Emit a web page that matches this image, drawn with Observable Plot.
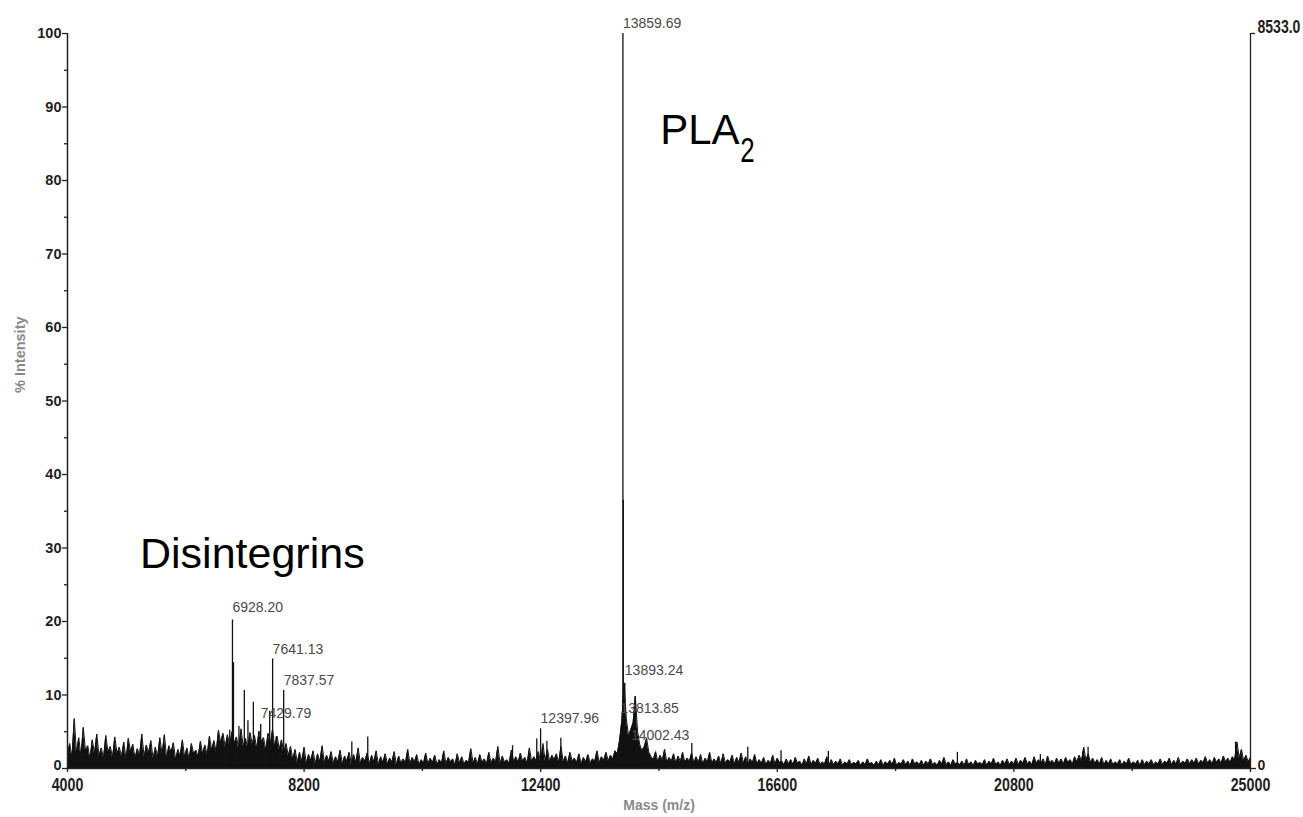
<!DOCTYPE html>
<html><head><meta charset="utf-8">
<script src="https://cdn.jsdelivr.net/npm/d3@7"></script>
<script src="https://cdn.jsdelivr.net/npm/@observablehq/plot@0.6"></script>
<style>
html,body{margin:0;padding:0;background:#fff;overflow:hidden;}
#chart svg{display:block;}
</style>
</head><body><div id="chart"></div>
<script>
// ---- data ----
const massStart = 4000;   // first sampled m/z
const massStep = 40;      // sampling step of the baseline trace (Da)
const intensities = [
 1.9,3.4,1.5,6.8,2.1,4.2,1.6,5.6,2.4,3.1,1.3,3.9,2.0,4.7,1.7,2.8,1.4,4.5,2.2,3.0,
 1.5,4.3,2.0,2.9,1.6,3.6,1.2,4.1,2.3,3.3,1.4,2.7,1.8,4.7,1.5,3.2,2.1,3.8,1.3,2.9,
 1.6,4.2,1.9,4.6,1.4,3.1,2.2,3.5,1.2,2.6,1.7,3.9,1.5,2.8,1.3,3.4,2.0,2.5,1.6,3.7,
 2.0,3.2,1.8,4.4,2.5,3.8,2.2,5.2,3.5,4.8,2.9,4.6,3.1,5.0,3.4,4.3,2.6,5.4,3.0,4.1,
 2.8,4.9,3.3,4.5,2.7,5.1,3.6,4.2,2.5,4.8,3.2,5.3,2.9,4.4,2.6,3.9,2.1,3.4,1.7,3.0,
 1.2,2.6,0.8,2.2,1.0,2.9,0.7,1.9,1.1,2.4,0.6,2.0,0.9,3.1,0.8,1.8,1.0,2.3,0.7,1.6,
 0.9,2.5,0.6,1.7,1.0,2.2,0.5,1.9,0.8,2.8,0.7,1.5,1.0,2.1,0.6,1.8,0.9,2.4,0.5,1.6,
 0.8,2.0,0.6,1.4,0.9,2.3,0.5,1.7,0.7,1.3,0.8,2.6,0.6,1.5,0.9,1.9,0.5,1.2,0.7,2.1,
 0.6,1.4,0.8,1.8,0.5,1.2,0.7,2.4,0.6,1.5,0.9,1.3,0.5,2.0,0.7,1.6,0.6,1.1,0.8,2.7,
 0.7,1.5,0.6,1.9,0.8,1.3,0.6,2.2,0.7,1.4,0.9,3.0,0.6,1.7,0.8,1.2,0.7,2.5,0.9,1.6,
 0.8,2.1,1.0,1.5,0.7,2.8,0.9,1.6,1.1,2.3,0.8,3.4,1.0,2.6,0.9,1.8,1.2,2.0,0.8,3.0,
 0.9,1.7,0.7,2.2,1.0,1.4,0.8,2.0,0.6,1.5,0.9,1.9,0.7,1.3,1.0,2.4,0.8,1.6,1.1,2.2,
 1.0,1.8,1.3,2.4,2.0,3.8,6.5,11.6,6.8,4.4,5.3,6.2,9.8,5.0,3.2,2.4,3.0,4.1,2.2,1.6,
 1.2,2.3,0.9,1.8,1.1,2.6,0.8,1.5,1.0,2.0,0.7,1.7,0.9,2.2,0.8,1.4,1.0,2.1,0.7,1.6,
 0.8,1.9,0.6,1.4,0.9,2.2,0.7,1.3,0.8,1.7,0.6,2.0,0.7,1.2,0.9,1.8,0.6,1.5,0.8,2.1,
 0.7,1.6,0.5,1.3,0.8,1.9,0.6,1.2,0.7,1.5,0.5,1.1,0.7,1.8,0.6,1.4,0.8,1.0,0.5,1.3,
 0.6,1.2,0.5,1.5,0.7,1.0,0.4,1.3,0.6,1.7,0.5,1.1,0.7,1.4,0.5,0.9,0.6,1.6,0.4,1.2,
 0.5,1.0,0.6,1.3,0.4,0.9,0.6,1.2,0.5,0.8,0.6,1.1,0.4,0.9,0.5,1.3,0.6,0.8,0.4,1.0,
 0.5,1.2,0.4,0.9,0.6,1.1,0.5,1.4,0.4,0.8,0.6,1.2,0.5,1.0,0.4,1.3,0.6,0.9,0.5,1.1,
 0.4,1.0,0.6,1.3,0.5,0.8,0.4,1.1,0.6,1.5,0.5,0.9,0.4,1.2,0.6,0.8,0.5,1.0,0.4,1.3,
 0.5,0.9,0.4,1.1,0.6,0.8,0.5,1.2,0.4,1.0,0.6,1.4,0.5,0.9,0.4,1.1,0.6,1.3,0.5,1.0,
 0.6,1.4,0.5,1.1,0.7,1.5,0.6,1.0,0.5,1.6,0.7,1.2,0.6,1.3,0.5,1.7,0.7,1.1,0.6,1.4,
 0.7,1.3,0.6,1.5,0.8,1.2,0.6,1.6,0.9,1.8,1.0,2.9,1.1,2.0,0.8,1.4,0.7,1.2,0.6,1.5,
 0.5,1.1,0.6,1.3,0.5,0.9,0.6,1.2,0.4,1.0,0.6,1.4,0.5,0.9,0.6,1.1,0.4,1.2,0.5,1.0,
 0.6,1.2,0.5,0.9,0.6,1.3,0.5,1.0,0.7,1.4,0.5,1.1,0.6,1.5,0.5,1.0,0.7,1.3,0.6,1.2,
 0.7,1.4,0.6,1.1,0.8,1.6,0.7,1.2,0.6,1.5,0.8,1.3,0.7,1.7,0.9,1.4,0.8,1.6,1.2,3.6,
 1.4,2.6,1.0,1.8,0.9,1.5
];
const peakMasses = [6880, 6928.2, 6946, 7043, 7139, 7203, 7299, 7429.79, 7589, 7641.13, 7703, 7837.57,
  9047, 9330, 11900, 12330, 12397.96, 12510, 12758, 13859.69, 13866, 13893.24, 14078,
  15082, 16076, 16666, 17506, 19797, 21270, 22117, 24735];
const peakIntensities = [5.2, 20.2, 14.4, 5.7, 10.6, 6.5, 9.0, 6.0, 7.8, 14.9, 4.3, 10.6,
  3.6, 4.3, 3.1, 4.0, 5.4, 3.7, 4.1, 100, 36.5, 11.6, 9.8,
  3.4, 2.9, 2.4, 2.3, 2.2, 1.9, 2.9, 3.6];
const peakLabels = ["6928.20", "7641.13", "7837.57", "7429.79", "12397.96", "13859.69", "13893.24", "13813.85", "14002.43"];
const peakLabelIntensities = [21.9, 16.2, 12.0, 7.5, 6.8, 101.4, 13.3, 8.2, 4.5];
const xTicks = [4000, 8200, 12400, 16600, 20800, 25000];
const xMinorTicks = [6100, 10300, 14500, 18700, 22900];
const yTicks = [10, 20, 30, 40, 50, 60, 70, 80, 90, 100];
const yZeroTick = [0];
const yMinorTicks = [5, 15, 25, 35, 45, 55, 65, 75, 85, 95];
const annotationTexts = ["Disintegrins", "PLA", "2"];
const annotationMasses = [5287, 14522, 15943];
const annotationIntensities = [29.2, 86.8, 84.1];
const rightAxisMax = "8533.0";
const zeroLabel = "0";
const xTitle = "Mass (m/z)";
const yTitle = "% Intensity";

// ---- tables built from the arrays ----
const spectrum = intensities.map((v, i) => ({mass: massStart + i * massStep, intensity: v}));
const peaks = peakMasses.map((m, i) => ({mass: m, intensity: peakIntensities[i]}));
const labels = peakLabels.map((t, i) => ({mass: +t, intensity: peakLabelIntensities[i], text: t}));
const annotations = annotationTexts.map((t, i) => ({text: t, mass: annotationMasses[i], intensity: annotationIntensities[i]}));

const sans = "'Liberation Sans',Arial,sans-serif";
const ink = "#111";
const tickInk = "#1e1e1e";

const chart = Plot.plot({
  width: 1303,
  height: 817,
  marginLeft: 67,
  marginRight: 53,
  marginTop: 33,
  marginBottom: 49,
  style: {fontFamily: sans, background: "#fff", overflow: "visible"},
  x: {domain: [4000, 25000], label: null},
  y: {domain: [0, 100], label: null},
  marks: [
    Plot.areaY(spectrum, {x: "mass", y: "intensity", fill: ink}),
    Plot.lineY(spectrum, {x: "mass", y: "intensity", stroke: ink, strokeWidth: 1}),
    Plot.ruleX(peaks, {x: "mass", y1: 0, y2: "intensity", stroke: ink, strokeWidth: 1.3}),
    // frame lines
    Plot.ruleX([{mass: 4000}], {x: "mass", y1: 0, y2: 100, stroke: "#222", strokeWidth: 1.5}),
    Plot.ruleX([{mass: 25000}], {x: "mass", y1: 0, y2: 100, stroke: "#222", strokeWidth: 1.3}),
    Plot.ruleY([0], {stroke: "#222", strokeWidth: 1.5}),
    // x axis
    Plot.axisX(xTicks, {tickSize: 4, tickPadding: 5, label: null, tickFormat: d => String(d), fontFamily: sans, fontSize: 19, fontWeight: "bold", fill: tickInk, stroke: "#222", strokeWidth: 1.3, className: "narrow-x"}),
    Plot.axisX(xMinorTicks, {tickSize: 3, label: null, tickFormat: () => "", stroke: "#222", strokeWidth: 1.3}),
    // left y axis
    Plot.axisY(yTicks, {anchor: "left", tickSize: 5, tickPadding: 1, label: null, fontFamily: sans, fontSize: 14.5, fontWeight: "bold", fill: tickInk, stroke: "#222", strokeWidth: 1.3}),
    Plot.axisY(yZeroTick, {anchor: "left", tickSize: 5, label: null, tickFormat: () => "", stroke: "#222", strokeWidth: 1.3}),
    Plot.text([{mass: 4000, intensity: 0, text: zeroLabel}], {x: "mass", y: "intensity", text: "text", textAnchor: "end", dx: -6, dy: -3, fontFamily: sans, fontSize: 14.5, fontWeight: "bold", fill: tickInk}),
    Plot.axisY(yMinorTicks, {anchor: "left", tickSize: 3, label: null, tickFormat: () => "", stroke: "#222", strokeWidth: 1.3}),
    // right y axis (absolute intensity)
    Plot.axisY(yZeroTick, {anchor: "right", tickSize: 5, label: null, tickFormat: () => "", stroke: "#222", strokeWidth: 1.3}),
    Plot.text([{mass: 25000, intensity: 0, text: zeroLabel}], {x: "mass", y: "intensity", text: "text", textAnchor: "start", dx: 7, dy: -3, fontFamily: sans, fontSize: 14, fontWeight: "bold", fill: tickInk}),
    Plot.axisY([100], {anchor: "right", tickSize: 4, label: null, tickFormat: () => "", stroke: "#222", strokeWidth: 1.3}),
    Plot.text([{mass: 25000, intensity: 100, text: rightAxisMax}], {x: "mass", y: "intensity", text: "text", textAnchor: "start", dx: 7, dy: -6, fontFamily: sans, fontSize: 18, fontWeight: "bold", fill: tickInk, className: "narrow-max"}),
    // axis titles
    Plot.text([xTitle], {frameAnchor: "bottom", dy: 41, fontFamily: sans, fontSize: 14, fontWeight: "bold", fill: "#8a8a8a"}),
    Plot.text([yTitle], {frameAnchor: "left", dx: -47, dy: -8, rotate: -90, fontFamily: sans, fontSize: 14.5, fontWeight: "bold", fill: "#8a8a8a"}),
    // peak labels
    Plot.text(labels, {x: "mass", y: "intensity", text: "text", textAnchor: "start", fontFamily: sans, fontSize: 14, fill: "#4a4a4a"}),
    // annotations
    Plot.text(annotations.slice(0, 2), {x: "mass", y: "intensity", text: "text", textAnchor: "start", fontFamily: sans, fontSize: d => d.text === "PLA" ? 42 : 43, fill: "#000"}),
    Plot.text(annotations.slice(2), {x: "mass", y: "intensity", text: "text", textAnchor: "start", fontFamily: sans, fontSize: 36, fill: "#000", className: "narrow-sub"})
  ]
});
document.getElementById("chart").appendChild(chart);

// condensed look of the original software's fonts: horizontal squeeze of some texts
function squeeze(selector, sx) {
  d3.select(chart).selectAll(selector).each(function () {
    const el = d3.select(this);
    let t = el.attr("transform");
    if (!t) {
      const x = +(el.attr("x") || 0), y = +(el.attr("y") || 0);
      t = `translate(${x},${y})`;
      el.attr("x", null).attr("y", null);
    }
    el.attr("transform", `${t} scale(${sx},1)`);
  });
}
squeeze(".narrow-x text", 0.75);
squeeze(".narrow-max text", 0.78);
squeeze(".narrow-sub text", 0.72);
</script>
</body></html>
